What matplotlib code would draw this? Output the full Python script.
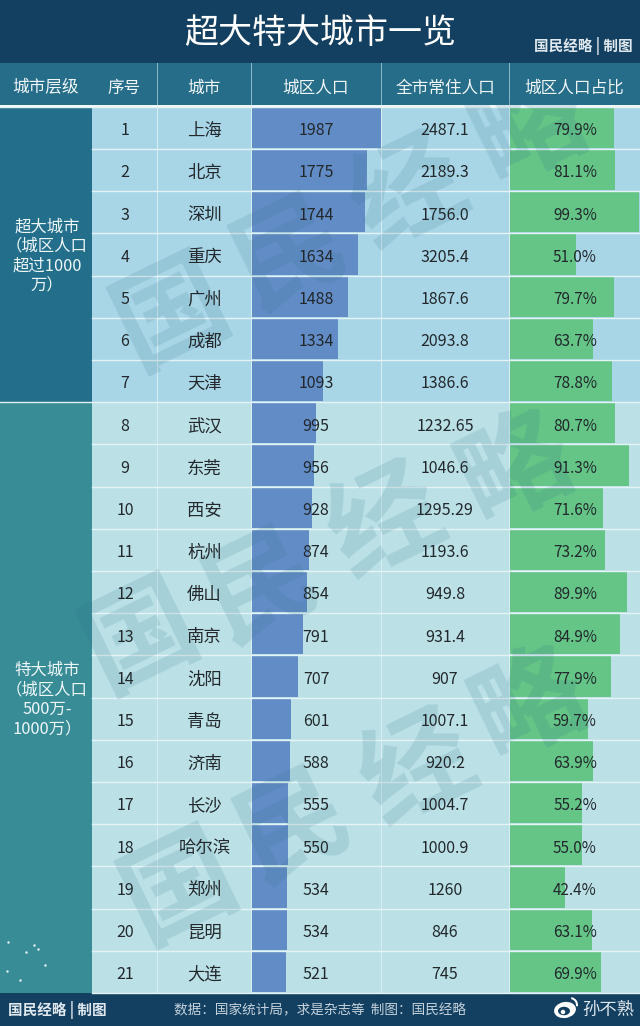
import matplotlib
matplotlib.use('Agg')
import matplotlib.pyplot as plt
from matplotlib.patches import Rectangle, Ellipse, Wedge

plt.rcParams['font.family'] = ['Noto Sans CJK SC', 'DejaVu Sans']

# Table data
cities = ['上海', '北京', '深圳', '重庆', '广州', '成都', '天津', '武汉', '东莞', '西安', '杭州',
          '佛山', '南京', '沈阳', '青岛', '济南', '长沙', '哈尔滨', '郑州', '昆明', '大连']
urban_pop = [1987, 1775, 1744, 1634, 1488, 1334, 1093, 995, 956, 928, 874,
             854, 791, 707, 601, 588, 555, 550, 534, 534, 521]
total_pop = ['2487.1', '2189.3', '1756.0', '3205.4', '1867.6', '2093.8', '1386.6', '1232.65',
             '1046.6', '1295.29', '1193.6', '949.8', '931.4', '907', '1007.1', '920.2',
             '1004.7', '1000.9', '1260', '846', '745']
share = [79.9, 81.1, 99.3, 51.0, 79.7, 63.7, 78.8, 80.7, 91.3, 71.6, 73.2,
         89.9, 84.9, 77.9, 59.7, 63.9, 55.2, 55.0, 42.4, 63.1, 69.9]
headers = ['城市层级', '序号', '城市', '城区人口', '全市常住人口', '城区人口占比']
tier_labels = ['超大城市\n（城区人口\n超过1000\n万）', '特大城市\n（城区人口\n500万-\n1000万）']
n_super = 7

# Layout in image pixels
col_edges = [0, 92, 157, 251, 381, 509, 640]
header_top, header_bot = 63, 105
row_top, row_h = 106.8, 42.2
navy = '#133f60'
head_blue = '#266d8a'
tier1, tier2 = '#236f8b', '#378c96'
row1, row2 = '#a9d6e7', '#bbe1e7'
bar_blue = '#628cc6'
bar_green = '#64c587'
ink = '#22282c'

fig = plt.figure(figsize=(6.4, 10.26), dpi=100)
ax = fig.add_axes([0, 0, 1, 1])
ax.set_xlim(0, 640)
ax.set_ylim(1026, 0)
ax.axis('off')

n = len(cities)
row_bot = row_top + n * row_h
ys = [row_top + (i + 0.5) * row_h for i in range(n)]

# Title and footer bands
ax.add_patch(Rectangle((0, 0), 640, header_top, fc=navy, ec='none'))
ax.add_patch(Rectangle((0, row_bot), 640, 1026 - row_bot, fc=navy, ec='none'))
ax.add_patch(Rectangle((0, header_top), 640, header_bot - header_top, fc=head_blue, ec='none'))

# Row backgrounds
for i, y in enumerate(ys):
    c = row1 if i < n_super else row2
    ax.add_patch(Rectangle((92, y - row_h / 2), 548, row_h, fc=c, ec='none'))

# Bars
pop_scale = 0.0647
share_scale = 1.3
ax.barh(ys, [v * pop_scale for v in urban_pop], height=row_h - 2, left=252, color=bar_blue, zorder=2)
ax.barh(ys, [v * share_scale for v in share], height=row_h - 2, left=510, color=bar_green, zorder=2)

# Tier blocks
split = row_top + n_super * row_h
ax.add_patch(Rectangle((0, row_top), 92, split - row_top, fc=tier1, ec='none', zorder=2))
ax.add_patch(Rectangle((0, split), 92, row_bot - split, fc=tier2, ec='none', zorder=2))

# Grid lines
for i in range(n + 1):
    y = row_top + i * row_h
    ax.plot([0 if i in (0, n_super) else 92, 640], [y, y], color='#e6f3f6', lw=1.0, zorder=3)
for x in col_edges[2:-1]:
    ax.plot([x, x], [row_top, row_bot], color='#d8eef3', lw=0.7, zorder=1.5)
    ax.plot([x, x], [header_top, header_bot], color='#8fbccb', lw=0.7, zorder=3)
ax.plot([0, 640], [header_bot + 0.5, header_bot + 0.5], color='#eef6f8', lw=1.2, zorder=3)

# Watermark, one glyph at a time because the letter spacing is wide
wm_lines = [[(172, 315), (290, 255), (410, 195), (530, 130)],
            [(141, 638), (262, 588), (387, 524), (516, 470)],
            [(180, 889), (294, 828), (419, 771), (530, 706)]]
for line in wm_lines:
    for ch, (wx, wy) in zip('国民经略', line):
        ax.text(wx, wy, ch, fontsize=80, fontweight='bold', color='#2c6f86', alpha=0.15,
                rotation=26, ha='center', va='center', rotation_mode='anchor', zorder=4)

# Text
centers = [(col_edges[k] + col_edges[k + 1]) / 2 for k in range(6)]
ax.text(320, 33, '超大特大城市一览', color='white', fontsize=24.5, ha='center', va='center', zorder=5)
ax.text(583, 46, '国民经略 | 制图', color='#dfe8ee', fontsize=10.5, fontweight='bold', ha='center', va='center', zorder=5)
for x, h in zip(centers, headers):
    ax.text(x, 88, h, color='#f0f6f8', fontsize=12, ha='center', va='center', zorder=5)

for i, y in enumerate(ys):
    ty = y + 2.8
    ax.text(125, ty, str(i + 1), color=ink, fontsize=11.5, ha='center', va='center', zorder=5)
    ax.text(204.5, ty, cities[i], color=ink, fontsize=12.5, ha='center', va='center', zorder=5)
    ax.text(316, ty, str(urban_pop[i]), color=ink, fontsize=11.5, ha='center', va='center', zorder=5)
    ax.text(445, ty, total_pop[i], color=ink, fontsize=11.5, ha='center', va='center', zorder=5)
    ax.text(575, ty, '%.1f%%' % share[i], color=ink, fontsize=11, ha='center', va='center', zorder=5)

ax.text(47, 256, tier_labels[0], color='#eef6f8', fontsize=11.8, ha='center', va='center', linespacing=1.2, zorder=5)
ax.text(47, 700, tier_labels[1], color='#eef6f8', fontsize=11.8, ha='center', va='center', linespacing=1.2, zorder=5)

# Small print flaws in the lower tier block
speck_x = [8, 26, 38, 20, 7, 45, 34]
speck_y = [942, 952, 949, 980, 971, 965, 945]
ax.scatter(speck_x, speck_y, s=3, color='#e8f4f4', linewidths=0, zorder=5)

# Footer
ax.text(57, 1010, '国民经略 | 制图', color='#dfe8ee', fontsize=10.5, fontweight='bold', ha='center', va='center', zorder=5)
ax.text(320, 1010, '数据：国家统计局，求是杂志等  制图：国民经略', color='#c3d2dc', fontsize=9.8, ha='center', va='center', zorder=5)
ax.text(608, 1010, '孙不熟', color='#dfe8ee', fontsize=12.5, ha='center', va='center', zorder=5)

# Weibo mark
ax.add_patch(Ellipse((565, 1010), 22, 16, angle=-10, fc='white', ec='none', zorder=5))
ax.add_patch(Ellipse((564, 1011), 12, 8.5, fc=navy, ec='none', zorder=6))
ax.add_patch(Ellipse((563, 1012), 4.5, 4.5, fc='white', ec='none', zorder=7))
ax.add_patch(Wedge((570, 1005), 8, -80, 10, width=2, fc='white', ec='none', zorder=5))

fig.savefig('out.png', dpi=100)
